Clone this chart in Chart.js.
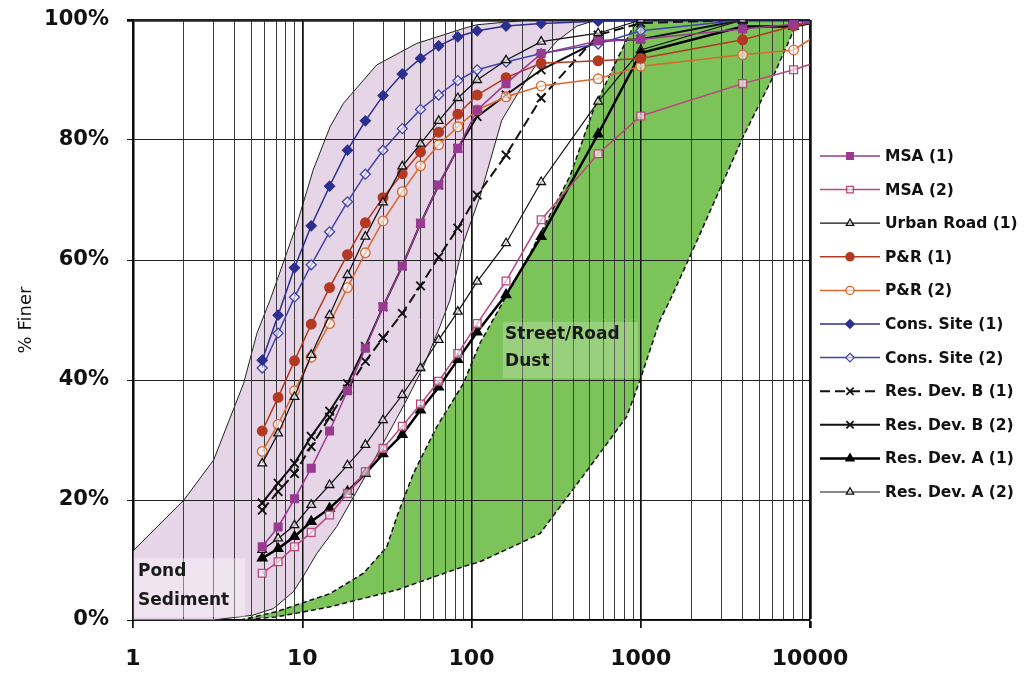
<!DOCTYPE html>
<html>
<head>
<meta charset="utf-8">
<script src="https://cdn.jsdelivr.net/npm/chart.js@4.4.1/dist/chart.umd.min.js"></script>
<style>
  html, body { margin: 0; padding: 0; background: #fff; }
  #wrap { width: 1028px; height: 675px; position: relative; }
</style>
</head>
<body>
<div id="wrap"><canvas id="chart"></canvas></div>
<script>
// ── Data (particle size, % finer) ─────────────────────────────
const sizes  = [5.8, 7.2, 9, 11.3, 14.5, 18.5, 23.6, 30, 39, 50, 64, 83, 108, 160, 258, 560, 1000, 4000, 8000, 12500];

const msa1   = [12.2, 15.5, 20.2, 25.3, 31.5, 38.2, 45.3, 52.2, 59, 66.1, 72.5, 78.6, 85, 89.4, 94.4, 96.5, 96.8, 98.5, 99.3, 100];
const msa2   = [7.8, 9.7, 12.2, 14.6, 17.5, 21.1, 24.7, 28.6, 32.3, 36, 39.8, 44.4, 49.4, 56.5, 66.7, 77.7, 84, 89.4, 91.7, 93.5];
const urban1 = [26.1, 31.1, 37.2, 44.2, 50.8, 57.5, 63.9, 69.6, 75.6, 79.4, 83.2, 87, 90, 93.3, 96.4, 97.8, 100, 100, 100, 100];
const pr1    = [31.5, 37.1, 43.2, 49.3, 55.4, 60.9, 66.2, 70.4, 74.4, 78, 81.3, 84.3, 87.5, 90.4, 92.8, 93.2, 93.6, 96.7, 99, 100];
const pr2    = [28.1, 32.6, 38.2, 43.8, 49.4, 55.4, 61.2, 66.5, 71.4, 75.7, 79.2, 82.2, 85, 87.2, 89, 90.2, 92.3, 94.2, 95, 98.5];
const cons1  = [43.3, 50.8, 58.7, 65.7, 72.3, 78.3, 83.2, 87.4, 91, 93.6, 95.7, 97.2, 98.2, 99, 99.4, 99.8, 100, 100, 100, 100];
const cons2  = [42, 47.8, 53.8, 59.2, 64.7, 69.7, 74.3, 78.3, 81.9, 85.1, 87.5, 89.9, 91.7, 93, 94.4, 96, 98.2, 100, 100, 100];
const resB1  = [18.3, 21.4, 24.4, 28.9, 33.8, 38.5, 43.1, 47, 51.1, 55.7, 60.5, 65.3, 70.8, 77.5, 87, 97.5, 99.5, 100, 100, 100];
const resB2  = [19.5, 22.8, 26.1, 30.6, 34.8, 39.4, 45.6, 52.2, 59, 66.1, 72.5, 78.6, 83.9, 87.5, 91.7, 96.5, 96.8, 100, 100, 100];
const resA1  = [10.3, 11.9, 13.9, 16.4, 18.6, 21.4, 24.4, 27.7, 30.9, 35, 38.8, 43.4, 48, 54.2, 63.9, 81, 94.5, 98.9, 98.9, 100];
const resA2  = [11.7, 13.6, 15.8, 19.2, 22.5, 25.8, 29.2, 33.3, 37.5, 42, 46.7, 51.4, 56.4, 62.8, 73, 86.4, 95, 100, 100, 100];

// Envelope outlines (closed polygons)
const pondX = [1, 2, 3, 3.7, 4.5, 5.4, 6.45, 9.3, 11.6, 14.6, 17.5, 27.5, 47.5, 90, 107, 220, 550,
               420, 320, 240, 190, 151, 112, 89.5, 74.6, 65, 52, 41.4, 30, 22.9, 19.6, 16, 12.2, 10.1, 8.85, 6.75, 5.1, 3, 1, 1];
const pondY = [11.5, 20, 26.7, 33.3, 39.4, 47.8, 53.3, 66, 75, 82.2, 86.1, 92.5, 96.1, 98.6, 99.2, 100, 100,
               99, 96.5, 92.5, 88, 83.3, 70.5, 62.8, 53.3, 48.9, 42.2, 36.7, 29.4, 23.3, 20, 15.6, 11.1, 7.2, 4.7, 1.9, 0.8, 0, 0, 11.5];

const dustX = [4.3, 7.06, 14.6, 23, 31.6, 36.2, 45.3, 62.3, 89.5, 112, 222, 382, 525, 721, 904, 1000, 8500,
               8340, 6068, 4036, 1954, 1489, 1300, 991, 826, 574, 382, 254, 194, 112, 89.5, 36.2, 14.6, 7, 4.3];
const dustY = [0, 1.4, 4.4, 7.8, 12.2, 17.2, 24.4, 32.2, 39.4, 46.1, 61.1, 74, 85, 93.3, 98.9, 100, 100,
               99.4, 90.6, 80.6, 60.6, 53.3, 50, 40, 33.9, 27.8, 21.1, 14.4, 12.8, 9.7, 8.9, 5, 2.2, 0.5, 0];

const xTickLabels = [1, 10, 100, 1000, 10000];
const yTicks      = [0, 20, 40, 60, 80, 100];

// ── Series styling ────────────────────────────────────────────
const SERIES = [
  { label: 'MSA (1)',          values: msa1,   color: '#983a8f', pt: 'rect',     r: 5.5, fillPt: true,  w: 1.5 },
  { label: 'MSA (2)',          values: msa2,   color: '#bb4680', pt: 'rect',     r: 5.5, fillPt: false, w: 1.5 },
  { label: 'Urban Road (1)',   values: urban1, color: '#111111', pt: 'triangle', r: 5,   fillPt: false, w: 1.2 },
  { label: 'P&R (1)',          values: pr1,    color: '#b23a22', pt: 'circle',   r: 4.8, fillPt: true,  w: 1.5 },
  { label: 'P&R (2)',          values: pr2,    color: '#d8692c', pt: 'circle',   r: 4.8, fillPt: false, w: 1.5 },
  { label: 'Cons. Site (1)',   values: cons1,  color: '#2b2f8f', pt: 'rectRot',  r: 5,   fillPt: true,  w: 1.5 },
  { label: 'Cons. Site (2)',   values: cons2,  color: '#4245a8', pt: 'rectRot',  r: 5,   fillPt: false, w: 1.5 },
  { label: 'Res. Dev. B (1)',  values: resB1,  color: '#111111', pt: 'crossRot', r: 6,   fillPt: false, w: 2,   dash: [10, 5] },
  { label: 'Res. Dev. B (2)',  values: resB2,  color: '#111111', pt: 'crossRot', r: 6,   fillPt: false, w: 2 },
  { label: 'Res. Dev. A (1)',  values: resA1,  color: '#000000', pt: 'triangle', r: 5.5, fillPt: true,  w: 2.5 },
  { label: 'Res. Dev. A (2)',  values: resA2,  color: '#111111', pt: 'triangle', r: 5,   fillPt: false, w: 1.2 },
];

const AREA_LABELS = [
  { lines: ['Pond', 'Sediment'],     box: [1.02, 4.6, 0.5, 10.3],  tx: 1.07, ty: [8.0, 3.3],  tint: 'rgba(255,255,255,0.38)' },
  { lines: ['Street/Road', 'Dust'],  box: [153, 960, 40.3, 49.7],  tx: 158,  ty: [47.6, 43.0], tint: 'rgba(255,255,255,0.22)' },
];

const pts = (xs, ys) => xs.map((x, i) => ({ x, y: ys[i] }));

Chart.defaults.font.family = '"DejaVu Sans", sans-serif';
Chart.defaults.color = '#111';

const datasets = SERIES.map(s => ({
  label: s.label,
  data: pts(sizes, s.values),
  borderColor: s.color,
  borderWidth: s.w,
  borderDash: s.dash || [],
  pointStyle: s.pt,
  pointRadius: s.r,
  pointHoverRadius: s.r,
  pointBorderWidth: s.pt === 'crossRot' ? 1.8 : 1.3,
  pointBorderColor: s.color,
  pointBackgroundColor: s.fillPt ? s.color : 'rgba(255,255,255,0.6)',
  tension: 0,
  fill: false,
  order: 1,
}));

datasets.push({
  label: 'Street/Road Dust', _area: true,
  data: pts(dustX, dustY),
  backgroundColor: '#7cc35a', borderColor: '#111', borderWidth: 1.5, borderDash: [5, 3],
  pointRadius: 0, fill: 'shape', tension: 0, order: 11,
});
datasets.push({
  label: 'Pond Sediment', _area: true, _last: true,
  data: pts(pondX, pondY),
  backgroundColor: '#e6d4e7', borderColor: '#222', borderWidth: 1,
  pointRadius: 0, fill: 'shape', tension: 0, order: 10,
});

// ── Grid over the envelopes, plus their labels ────────────────
const areaOverlay = {
  id: 'areaOverlay',
  afterDatasetDraw(chart, args) {
    const ds = chart.data.datasets[args.index];
    if (!ds._last) return;
    const { ctx, chartArea, scales: { x, y } } = chart;
    x.drawGrid(chartArea);
    y.drawGrid(chartArea);
    ctx.save();
    AREA_LABELS.forEach(l => {
      const x0 = x.getPixelForValue(l.box[0]), x1 = x.getPixelForValue(l.box[1]);
      const y0 = y.getPixelForValue(l.box[3]), y1 = y.getPixelForValue(l.box[2]);
      ctx.fillStyle = l.tint;
      ctx.fillRect(x0, y0, x1 - x0, y1 - y0);
      ctx.fillStyle = '#1a1a1a';
      ctx.font = 'bold 17px "DejaVu Sans", sans-serif';
      ctx.textBaseline = 'middle';
      ctx.textAlign = 'left';
      l.lines.forEach((t, i) => ctx.fillText(t, x.getPixelForValue(l.tx), y.getPixelForValue(l.ty[i])));
    });
    ctx.restore();
  },
};

// ── Legend at the right with line + marker samples ────────────
const sideLegend = {
  id: 'sideLegend',
  afterDraw(chart) {
    const { ctx } = chart;
    ctx.save();
    chart.data.datasets.filter(d => !d._area).forEach((d, i) => {
      const yy = 156 + i * 33.6;
      ctx.strokeStyle = d.borderColor;
      ctx.lineWidth = d.borderWidth;
      ctx.setLineDash(d.borderDash || []);
      ctx.beginPath(); ctx.moveTo(820, yy); ctx.lineTo(880, yy); ctx.stroke();
      ctx.setLineDash([]);
      ctx.fillStyle = d.pointBackgroundColor;
      ctx.strokeStyle = d.pointBorderColor;
      ctx.lineWidth = d.pointBorderWidth;
      Chart.helpers.drawPoint(ctx, { pointStyle: d.pointStyle, radius: d.pointRadius * 0.85, rotation: 0, borderWidth: d.pointBorderWidth }, 850, yy);
      ctx.fillStyle = '#111';
      ctx.font = 'bold 15.5px "DejaVu Sans", sans-serif';
      ctx.textBaseline = 'middle';
      ctx.textAlign = 'left';
      ctx.fillText(d.label, 885, yy + 1);
    });
    ctx.restore();
  },
};

new Chart(document.getElementById('chart'), {
  type: 'line',
  data: { datasets },
  plugins: [areaOverlay, sideLegend],
  options: {
    responsive: true,
    maintainAspectRatio: false,
    animation: false,
    events: [],
    layout: { autoPadding: false, padding: { top: 20, right: 218, left: 0, bottom: 0 } },
    plugins: { legend: { display: false }, tooltip: { enabled: false } },
    scales: {
      x: {
        type: 'logarithmic',
        min: 1, max: 10000,
        afterFit: s => { s.height = 55; s.paddingLeft = 0; s.paddingRight = 0; },
        afterBuildTicks: s => {
          const t = [];
          for (let d = 1; d < 10000; d *= 10) for (let m = 1; m < 10; m++) t.push({ value: m * d });
          t.push({ value: 10000 });
          s.ticks = t;
        },
        ticks: {
          autoSkip: false, maxRotation: 0, padding: 18,
          font: { size: 22, weight: 'bold' }, color: '#111',
          callback: v => xTickLabels.includes(v) ? String(v) : '',
        },
        grid: {
          color: c => c.tick && xTickLabels.includes(c.tick.value) ? '#111' : '#3c3c3c',
          lineWidth: c => c.tick && c.tick.value === 10000 ? 2.5 : (c.tick && xTickLabels.includes(c.tick.value) ? 1.5 : 1),
          tickColor: c => c.tick && xTickLabels.includes(c.tick.value) ? '#111' : 'rgba(0,0,0,0)',
          tickLength: 8,
        },
        border: { display: true, color: '#000', width: 2 },
      },
      y: {
        min: 0, max: 100,
        afterFit: s => { s.width = 133; s.paddingTop = 0; s.paddingBottom = 0; },
        afterBuildTicks: s => { s.ticks = yTicks.map(v => ({ value: v })); },
        ticks: {
          padding: 18,
          font: { size: 21, weight: 'bold' }, color: '#111',
          callback: v => v + '%',
        },
        grid: {
          color: '#222',
          lineWidth: c => c.tick && c.tick.value === 100 ? 2.5 : 1,
          tickColor: '#111', tickLength: 6,
        },
        border: { display: true, color: '#000', width: 2.5 },
        title: { display: true, text: '% Finer', font: { size: 18 }, color: '#111', padding: { top: 16, bottom: 0 } },
      },
    },
  },
});
</script>
</body>
</html>
